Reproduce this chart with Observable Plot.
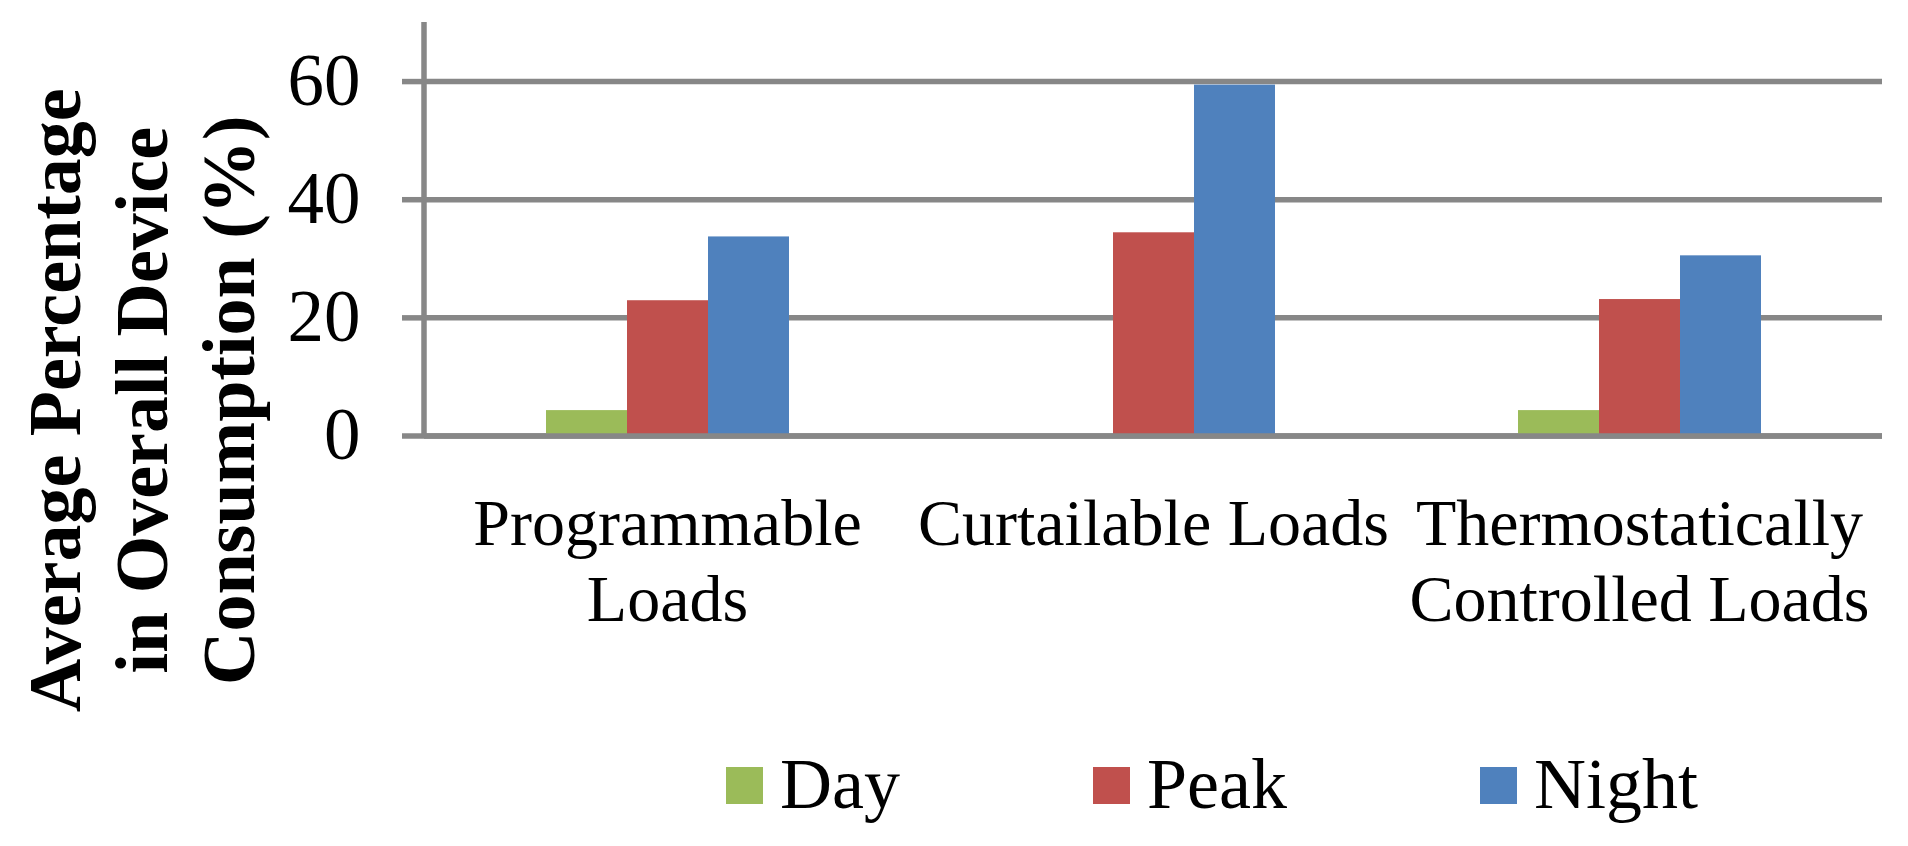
<!DOCTYPE html>
<html>
<head>
<meta charset="utf-8">
<script src="https://cdn.jsdelivr.net/npm/d3@7"></script>
<script src="https://cdn.jsdelivr.net/npm/@observablehq/plot@0.6"></script>
<style>
  html, body { margin: 0; padding: 0; background: #fff; overflow: hidden; }
  #wrap { position: relative; width: 1908px; height: 846px; font-family: "Liberation Serif", "Times New Roman", serif; }
  #legend { position: absolute; left: 726px; top: 748px; display: flex; font-size: 72px; line-height: 1; color: #000; white-space: nowrap; }
  .item { display: inline-block; }
  .sw { display: inline-block; width: 37px; height: 37px; vertical-align: 4px; margin-right: 17px; }
</style>
</head>
<body>
<div id="wrap"><div id="chart"></div><div id="legend"></div></div>
<script>
// ---- data ----
const categories = ["Programmable Loads", "Curtailable Loads", "Thermostatically Controlled Loads"];
const categoryLabels = ["Programmable\nLoads", "Curtailable Loads", "Thermostatically\nControlled Loads"];
const series = ["Day", "Peak", "Night"];
const dayValues = [4.3, 0, 4.3];
const peakValues = [22.9, 34.4, 23.1];
const nightValues = [33.7, 59.4, 30.5];
const yTicks = [0, 20, 40, 60];
const yDomain = [0, 70];
const colors = ["#9BBB59", "#C0504D", "#4F81BD"];
const yTitle = "Average Percentage\nin Overall Device\nConsumption (%)";

const valuesBySeries = [dayValues, peakValues, nightValues];
const data = [];
categories.forEach((c, i) => series.forEach((s, j) => data.push({category: c, series: s, value: valuesBySeries[j][i]})));

const grid = "#878787";
const gridWidth = 5.5;

// y axis domain line, placed from the plot's own y scale and left margin (drawn in the first facet only)
let axisLineDrawn = false;
function axisLine(...args) {
  if (axisLineDrawn) return null;
  axisLineDrawn = true;
  const scales = args.find(a => a && typeof a.y === "function");
  const dims = args.find(a => a && typeof a.marginLeft === "number");
  const y = scales.y;
  const line = document.createElementNS("http://www.w3.org/2000/svg", "line");
  line.setAttribute("x1", dims.marginLeft);
  line.setAttribute("x2", dims.marginLeft);
  line.setAttribute("y1", y(yDomain[1]));
  line.setAttribute("y2", y(yDomain[0]));
  line.setAttribute("stroke", grid);
  line.setAttribute("stroke-width", gridWidth);
  return line;
}

const chart = Plot.plot({
  width: 1908,
  height: 720,
  marginLeft: 423,
  marginRight: 25,
  marginTop: 22,
  marginBottom: 284.5,
  style: {fontFamily: "Liberation Serif, 'Times New Roman', serif", background: "white", color: "black", overflow: "visible"},
  fx: {domain: categories, padding: 0, label: null},
  x: {domain: series, paddingInner: 0, paddingOuter: 1.5, axis: null},
  y: {domain: yDomain, label: null},
  color: {domain: series, range: colors},
  marks: [
    Plot.ruleY(yTicks, {stroke: grid, strokeWidth: gridWidth}),
    Plot.barY(data, {fx: "category", x: "series", y: "value", fill: "series"}),
    Plot.ruleY([0], {stroke: grid, strokeWidth: gridWidth}),
    Plot.axisY(yTicks, {tickSize: 22, tickPadding: 42, fontSize: 73, stroke: grid, strokeWidth: gridWidth, label: null}),
    axisLine,
    Plot.axisFx({anchor: "bottom", tickSize: 0, tickPadding: 55, fontSize: 66, lineHeight: 1.15, label: null,
                 tickFormat: d => categoryLabels[categories.indexOf(d)]}),
    Plot.text([{fx: categories[0]}], {fx: "fx", text: () => yTitle, frameAnchor: "left", rotate: -90,
               textAnchor: "middle", lineAnchor: "top", fontSize: 74, fontWeight: "bold", lineHeight: 1.176,
               dx: -406.5, dy: 171, fill: "black"})
  ]
});
document.getElementById("chart").appendChild(chart);

const legend = document.getElementById("legend");
series.forEach((s, i) => {
  const item = document.createElement("span");
  item.className = "item";
  if (i > 0) item.style.marginLeft = "193px";
  const sw = document.createElement("span");
  sw.className = "sw";
  sw.style.background = colors[i];
  item.appendChild(sw);
  item.appendChild(document.createTextNode(s));
  legend.appendChild(item);
});
</script>
</body>
</html>
